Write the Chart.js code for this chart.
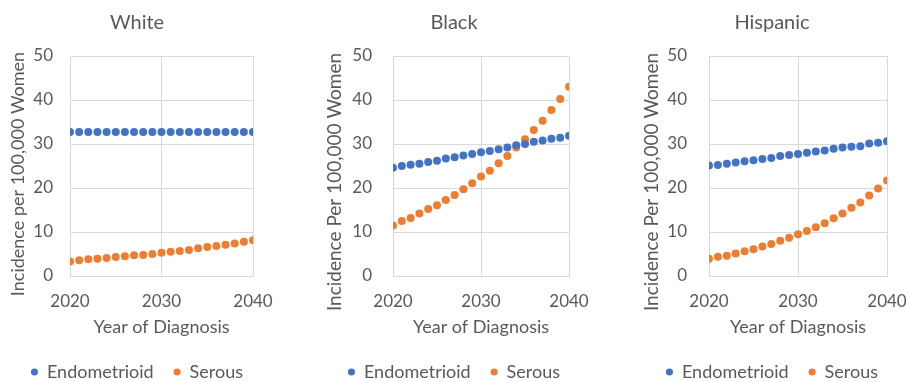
<!DOCTYPE html>
<html>
<head>
<meta charset="utf-8">
<script src="https://cdn.jsdelivr.net/npm/chart.js@4/dist/chart.umd.min.js"></script>
<style>
  html, body { margin: 0; padding: 0; background: #ffffff; overflow: hidden; }
  body { width: 906px; height: 382px; position: relative; }
  .panel { position: absolute; top: 0; height: 382px; }
</style>
</head>
<body>
<div class="panel" id="p0" style="left:0px;width:274px"><canvas id="c0"></canvas></div>
<div class="panel" id="p1" style="left:319px;width:270px"><canvas id="c1"></canvas></div>
<div class="panel" id="p2" style="left:638px;width:268px"><canvas id="c2"></canvas></div>
<script>
// Projected incidence per 100,000 women by year of diagnosis, 2020-2040
const years = [2020, 2021, 2022, 2023, 2024, 2025, 2026, 2027, 2028, 2029, 2030,
               2031, 2032, 2033, 2034, 2035, 2036, 2037, 2038, 2039, 2040];

const groups = ['White', 'Black', 'Hispanic'];
const seriesNames = ['Endometrioid', 'Serous'];
const yAxisTitles = ['Incidence per 100,000 Women', 'Incidence Per 100,000 Women', 'Incidence Per 100,000 Women'];
const xAxisTitle = 'Year of Diagnosis';
const xTickValues = [2020, 2030, 2040];
const yTickValues = [0, 10, 20, 30, 40, 50];

const whiteEndometrioid = [32.7, 32.7, 32.7, 32.7, 32.7, 32.7, 32.7, 32.7, 32.7, 32.7, 32.7,
                           32.7, 32.7, 32.7, 32.7, 32.7, 32.7, 32.7, 32.7, 32.7, 32.7];
const whiteSerous = [3.3, 3.6, 3.8, 3.9, 4.1, 4.3, 4.5, 4.7, 4.8, 5.0, 5.3,
                     5.5, 5.7, 5.9, 6.3, 6.6, 6.8, 7.1, 7.4, 7.8, 8.1];

const blackEndometrioid = [24.6, 25.0, 25.3, 25.5, 25.9, 26.2, 26.7, 27.0, 27.4, 27.7, 28.1,
                           28.4, 28.8, 29.2, 29.7, 30.0, 30.5, 30.8, 31.2, 31.4, 31.9];
const blackSerous = [11.5, 12.5, 13.2, 14.2, 15.2, 16.1, 17.3, 18.4, 19.7, 21.1, 22.6,
                     23.9, 25.6, 27.3, 29.2, 31.1, 33.2, 35.3, 37.7, 40.2, 43.0];

const hispanicEndometrioid = [25.1, 25.2, 25.5, 25.8, 26.1, 26.3, 26.6, 26.8, 27.3, 27.5, 27.7,
                              28.0, 28.3, 28.5, 28.9, 29.2, 29.4, 29.5, 30.1, 30.3, 30.6];
const hispanicSerous = [3.9, 4.4, 4.6, 5.1, 5.6, 6.1, 6.7, 7.3, 8.0, 8.7, 9.5,
                        10.2, 11.1, 12.0, 13.1, 14.2, 15.5, 16.7, 18.3, 19.9, 21.7];

const panelSeries = [
  [whiteEndometrioid, whiteSerous],
  [blackEndometrioid, blackSerous],
  [hispanicEndometrioid, hispanicSerous]
];

const seriesColors = ['#4472C4', '#ED7D31'];
const textColor = '#595959';
const gridColor = '#D9D9D9';
const fontFamily = 'Lato, "Open Sans", sans-serif';

// Per-panel layout: y-axis band width, tick gap, right gutter, rotated title position
const layouts = [
  { yAxisWidth: 70, tickGap: 17, rightGutter: 21, yTitleX: 18, yTitleY: 174, yTitleSize: 18 },
  { yAxisWidth: 74, tickGap: 21, rightGutter: 20, yTitleX: 16, yTitleY: 182, yTitleSize: 19 },
  { yAxisWidth: 71, tickGap: 22, rightGutter: 19, yTitleX: 14, yTitleY: 182, yTitleSize: 19 }
];
const PLOT_BOTTOM = 276;
const BOTTOM_PAD = -9;

// Rotated y-axis caption, placed independently of the plot area's centre
const yCaption = {
  id: 'yCaption',
  afterDraw(chart, args, opts) {
    const ctx = chart.ctx;
    ctx.save();
    ctx.translate(opts.x, opts.y);
    ctx.rotate(-Math.PI / 2);
    ctx.font = opts.size + 'px ' + fontFamily;
    ctx.fillStyle = textColor;
    ctx.textAlign = 'center';
    ctx.textBaseline = 'middle';
    ctx.fillText(opts.text, 0, 0);
    ctx.restore();
  }
};

function yearData(values) {
  return years.map((yr, i) => ({ x: yr, y: values[i] }));
}

groups.forEach((group, idx) => {
  const lay = layouts[idx];
  const series = panelSeries[idx];
  new Chart(document.getElementById('c' + idx), {
    type: 'scatter',
    data: {
      datasets: seriesNames.map((name, s) => ({
        label: name,
        data: yearData(series[s]),
        backgroundColor: seriesColors[s],
        borderColor: seriesColors[s],
        borderWidth: 0,
        pointRadius: 4,
        pointHoverRadius: 4
      }))
    },
    plugins: [yCaption],
    options: {
      responsive: true,
      maintainAspectRatio: false,
      animation: false,
      layout: { padding: { top: 0, left: 0, right: 0, bottom: BOTTOM_PAD } },
      plugins: {
        tooltip: { enabled: false },
        title: {
          display: true,
          text: group,
          color: textColor,
          font: { family: fontFamily, size: 20, weight: 'normal' },
          padding: { top: 11, bottom: 21 }
        },
        legend: {
          display: true,
          position: 'bottom',
          labels: {
            usePointStyle: true,
            pointStyle: 'circle',
            boxWidth: 7,
            boxHeight: 5,
            padding: 20,
            color: textColor,
            font: { family: fontFamily, size: 18 }
          }
        },
        yCaption: { text: yAxisTitles[idx], x: lay.yTitleX, y: lay.yTitleY, size: lay.yTitleSize }
      },
      scales: {
        x: {
          type: 'linear',
          min: xTickValues[0],
          max: xTickValues[xTickValues.length - 1],
          afterBuildTicks(scale) { scale.ticks = xTickValues.map(v => ({ value: v })); },
          ticks: {
            color: textColor,
            padding: 15,
            maxRotation: 0,
            font: { family: fontFamily, size: 17 },
            callback: v => String(v)
          },
          grid: { color: gridColor, lineWidth: 1, drawTicks: false },
          border: { color: gridColor, width: 1 },
          title: {
            display: true,
            text: xAxisTitle,
            color: textColor,
            font: { family: fontFamily, size: 18 },
            padding: { top: 0, bottom: 5 }
          },
          afterFit(scale) {
            const ch = scale.chart;
            scale.height = ch.height - PLOT_BOTTOM - ch.legend.height - BOTTOM_PAD;
            scale.paddingLeft = 0;
            scale.paddingRight = lay.rightGutter;
          }
        },
        y: {
          min: yTickValues[0],
          max: yTickValues[yTickValues.length - 1],
          afterBuildTicks(scale) { scale.ticks = yTickValues.map(v => ({ value: v })); },
          ticks: {
            color: textColor,
            padding: lay.tickGap,
            font: { family: fontFamily, size: 17 },
            callback: v => String(v)
          },
          grid: { color: gridColor, lineWidth: 1, drawTicks: false },
          border: { color: gridColor, width: 1 },
          afterFit(scale) {
            scale.width = lay.yAxisWidth;
            scale.paddingTop = 0;
            scale.paddingBottom = 0;
          }
        }
      }
    }
  });
});
</script>
</body>
</html>
